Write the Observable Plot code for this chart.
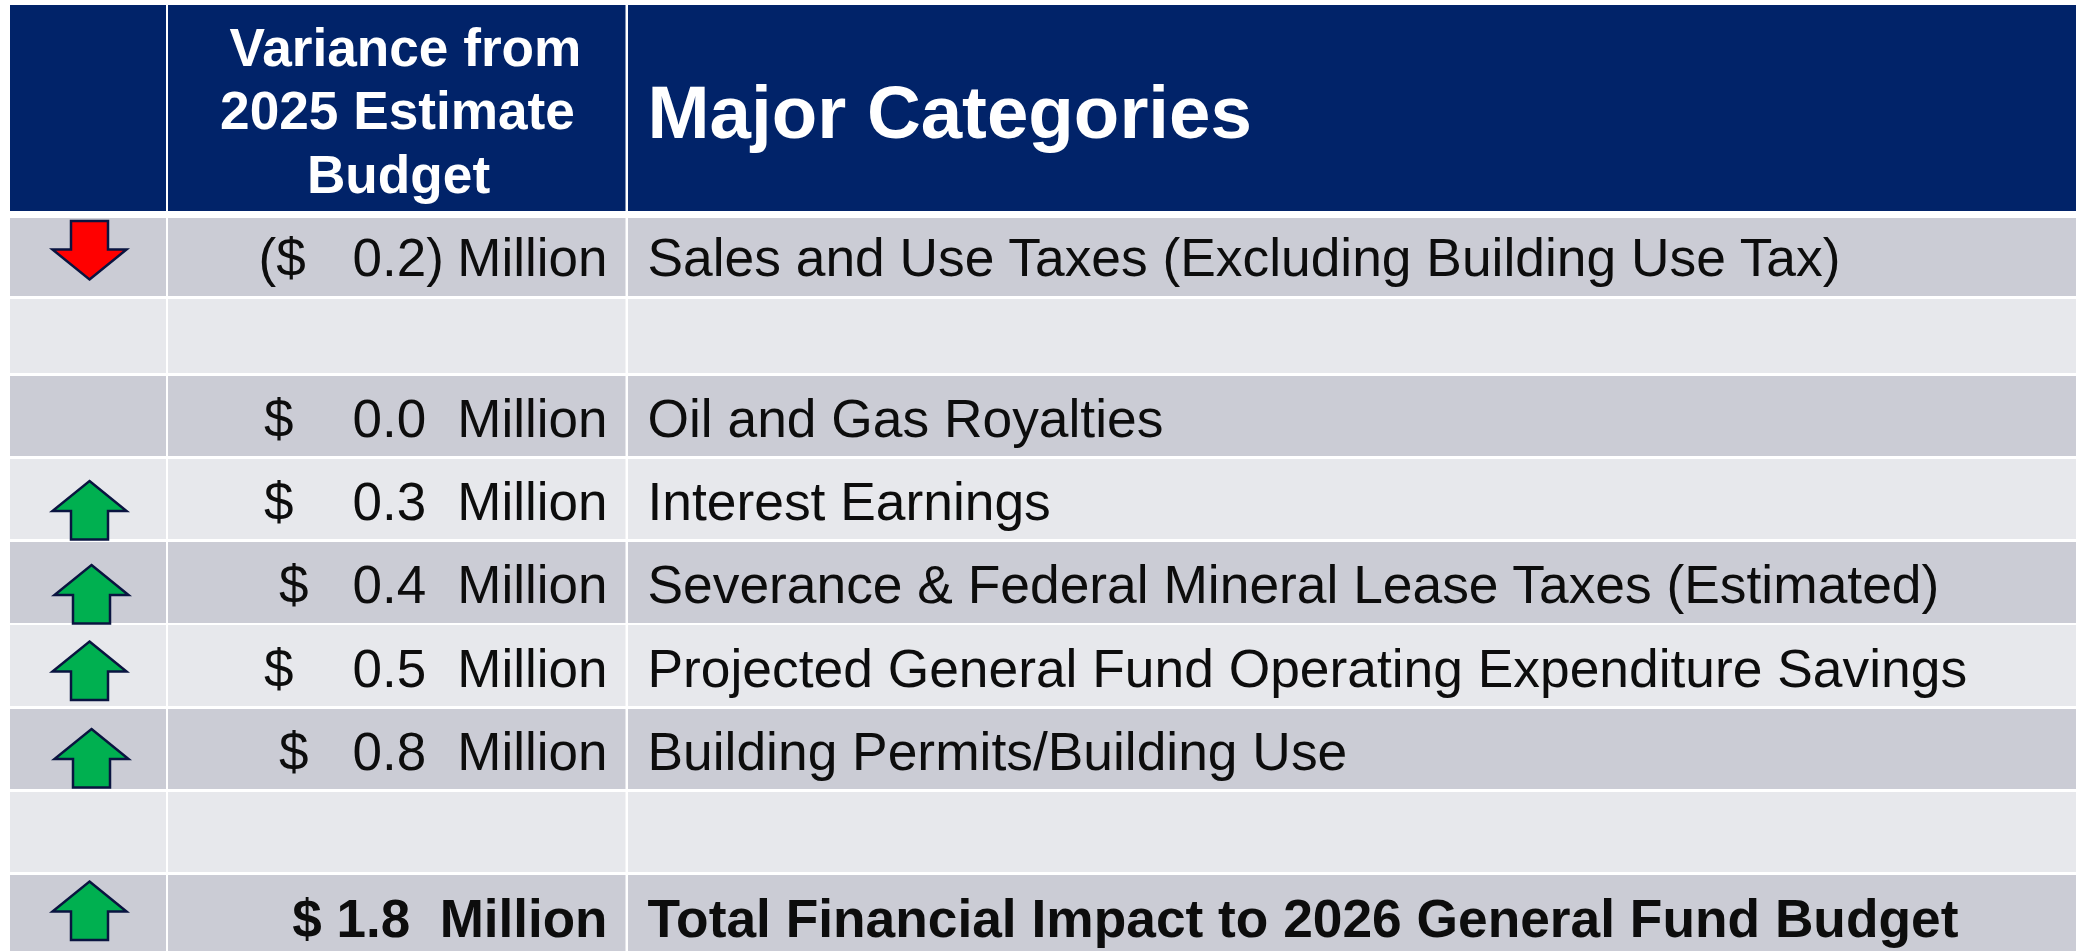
<!DOCTYPE html>
<html>
<head>
<meta charset="utf-8">
<style>
html,body{margin:0;padding:0;background:#fff;}
svg{display:block;}
</style>
<script src="https://cdn.jsdelivr.net/npm/d3@7"></script>
<script src="https://cdn.jsdelivr.net/npm/@observablehq/plot@0.6"></script>
</head>
<body>
<div id="chart"></div>
<script>
// ---- data ----
const headerVariance = ["Variance from", "2025 Estimate", "Budget"];
const headerCategories = "Major Categories";
const categories = [
  "Sales and Use Taxes (Excluding Building Use Tax)",
  "",
  "Oil and Gas Royalties",
  "Interest Earnings",
  "Severance & Federal Mineral Lease Taxes (Estimated)",
  "Projected General Fund Operating Expenditure Savings",
  "Building Permits/Building Use",
  "",
  "Total Financial Impact to 2026 General Fund Budget"
];
const dollarSigns = ["($", "", "$", "$", "$", "$", "$", "", ""];
const amounts = ["0.2)", "", "0.0", "0.3", "0.4", "0.5", "0.8", "", ""];
const units = ["Million", "", "Million", "Million", "Million", "Million", "Million", "", ""];
const totalLabel = "$ 1.8\u00a0\u00a0Million";
const directions = ["down", "", "", "up", "up", "up", "up", "", "up"];

// ---- table layout (pixels) ----
const W = 2076, H = 951;
const colEdges = [[10, 166], [168, 625.5], [628, 2076]];
const headerEdge = [5, 211];
const rowEdges = [[218, 296], [299, 373], [376, 456], [459, 539], [542, 623], [625, 706], [709, 789], [792, 872], [875, 951]];
const baselines = [275.5, null, 436.5, 519.5, 602.5, 686.5, 769.5, null, 936];
const dollarX = [258, 0, 263.5, 263.5, 278.5, 263.5, 278.5, 0, 0];
const arrowX = [89, 0, 0, 89, 91, 89, 91, 0, 89];
const arrowY = [250, 0, 0, 509.5, 593.5, 670, 757.5, 0, 910];
const amountX = 352, unitEnd = 607, catX = 647;
const headerLineY = [65, 128, 192];
const headerLineX = [405, 397, 398];

const headerFill = "#012369", darkFill = "#CBCCD5", lightFill = "#E7E8EC", ink = "#0D0D0D";

// ---- tables for marks ----
const cells = [];
colEdges.forEach(c => {
  cells.push({x1: c[0], x2: c[1], y1: headerEdge[0], y2: headerEdge[1], fill: headerFill});
  rowEdges.forEach((r, i) => cells.push({x1: c[0], x2: c[1], y1: r[0], y2: r[1], fill: i % 2 === 0 ? darkFill : lightFill}));
});
const rows = categories.map((c, i) => ({
  category: c, dollar: dollarSigns[i], amount: amounts[i], unit: units[i],
  dir: directions[i], baseline: baselines[i], dollarX: dollarX[i], ax: arrowX[i], ay: arrowY[i], bold: i === 8
}));
const regular = rows.filter(d => !d.bold && d.unit);

// ---- arrow symbols, proportional to r ----
function arrow(sign) {
  return {
    draw(ctx, size) {
      const r = Math.sqrt(size / Math.PI);
      const u = r / 30;
      const p = [[0, -29], [37, 1], [18.5, 1], [18.5, 29.5], [-18.5, 29.5], [-18.5, 1], [-37, 1]];
      p.forEach(([x, y], i) => {
        const px = x * u, py = sign * y * u;
        i ? ctx.lineTo(px, py) : ctx.moveTo(px, py);
      });
      ctx.closePath();
    }
  };
}
const arrowMark = (dir, fill) => Plot.dot(rows.filter(d => d.dir === dir), {
  x: "ax", y: "ay", r: 30, symbol: arrow(dir === "up" ? 1 : -1),
  fill, stroke: "#0A1440", strokeWidth: 2.5
});

const chart = Plot.plot({
  width: W, height: H,
  margin: 0,
  x: {domain: [0, W], range: [0, W], axis: null},
  y: {domain: [0, H], range: [0, H], axis: null},
  style: {fontFamily: "'Liberation Sans', Arial, sans-serif", background: "#fff"},
  marks: [
    Plot.rect(cells, {x1: "x1", x2: "x2", y1: "y1", y2: "y2", fill: d => d.fill}),
    Plot.text(headerVariance, {
      x: (d, i) => headerLineX[i], y: (d, i) => headerLineY[i], text: d => d,
      fill: "#fff", fontSize: 53.2, fontWeight: "bold", textAnchor: "middle", lineAnchor: "bottom"
    }),
    Plot.text([headerCategories], {
      x: catX, y: [137], text: d => d,
      fill: "#fff", fontSize: 74.5, fontWeight: "bold", textAnchor: "start", lineAnchor: "bottom"
    }),
    arrowMark("up", "#00B050"),
    arrowMark("down", "#FF0000"),
    Plot.text(regular, {x: "dollarX", y: "baseline", text: "dollar", fill: ink, fontSize: 53, textAnchor: "start", lineAnchor: "bottom"}),
    Plot.text(regular, {x: amountX, y: "baseline", text: "amount", fill: ink, fontSize: 53, textAnchor: "start", lineAnchor: "bottom"}),
    Plot.text(regular, {x: unitEnd, y: "baseline", text: "unit", fill: ink, fontSize: 53, textAnchor: "end", lineAnchor: "bottom"}),
    Plot.text(rows.filter(d => d.bold), {x: unitEnd, y: "baseline", text: () => totalLabel, fill: ink, fontSize: 53, fontWeight: "bold", textAnchor: "end", lineAnchor: "bottom"}),
    Plot.text(regular, {x: catX, y: "baseline", text: "category", fill: ink, fontSize: 53.35, textAnchor: "start", lineAnchor: "bottom"}),
    Plot.text(rows.filter(d => d.bold), {x: catX, y: "baseline", text: "category", fill: ink, fontSize: 53.3, fontWeight: "bold", textAnchor: "start", lineAnchor: "bottom"})
  ]
});
document.getElementById("chart").appendChild(chart);
</script>
</body>
</html>
